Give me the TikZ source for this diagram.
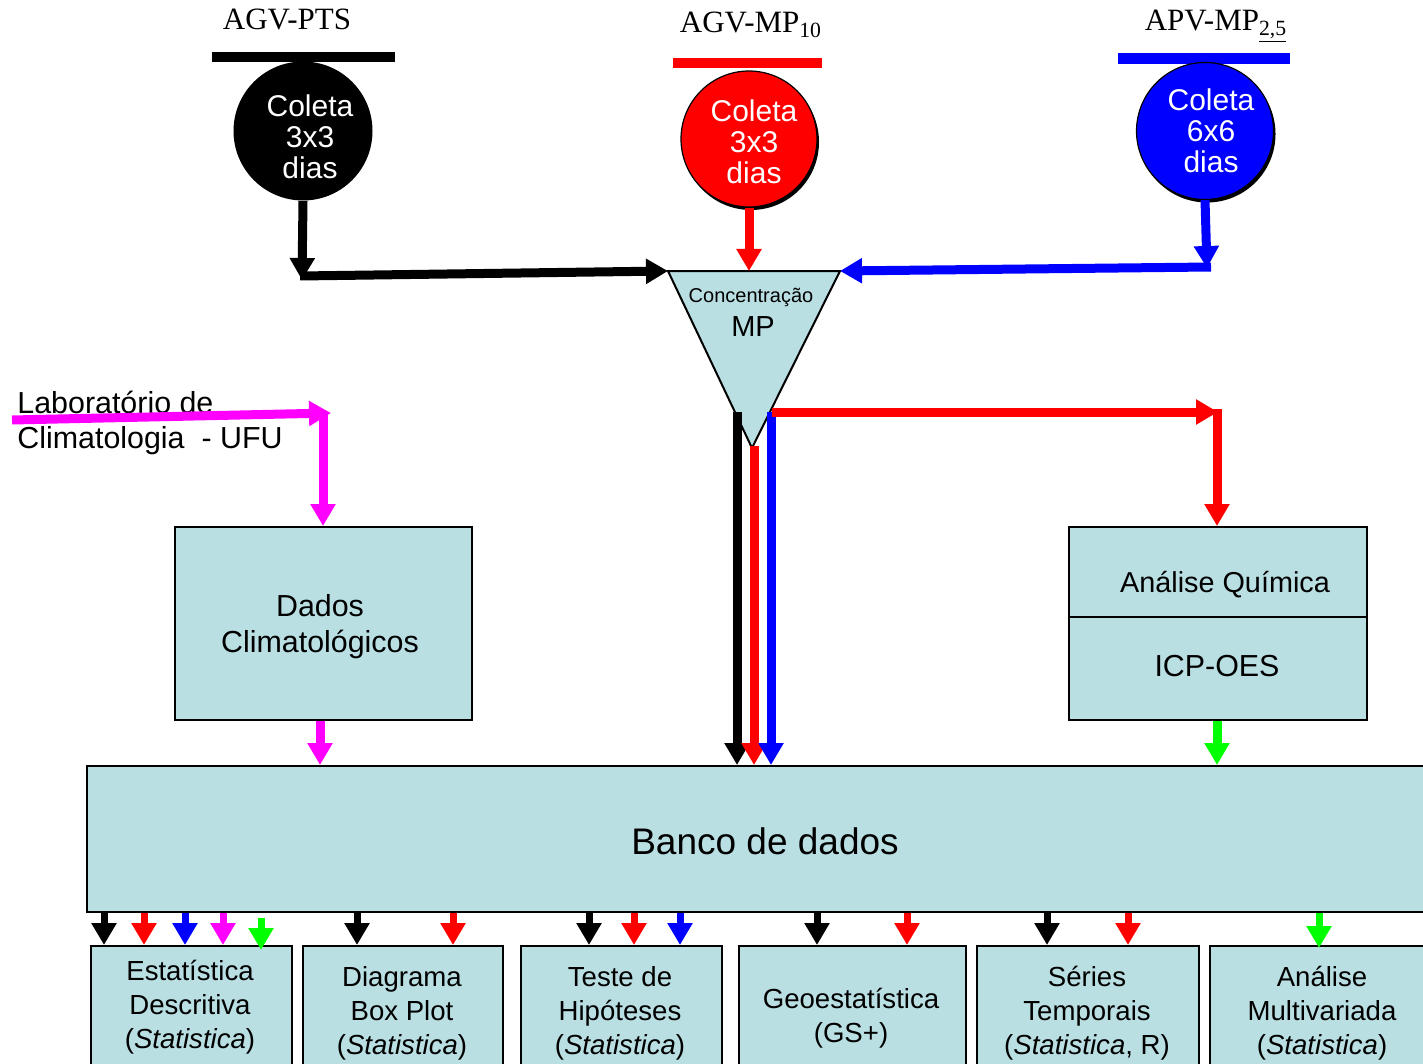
\documentclass[tikz,border=0pt]{standalone}
\usepackage{fontspec}
\setmainfont{Liberation Sans}
\newfontfamily\serifT{Liberation Serif}
\usetikzlibrary{arrows.meta}
\definecolor{boxblue}{RGB}{185,223,227}
\definecolor{mag}{RGB}{255,0,255}
\definecolor{grn}{RGB}{0,255,0}
\begin{document}
\begin{tikzpicture}[x=0.5pt,y=-0.5pt,
  fat/.style={line width=4.5pt,-{Triangle[length=11pt,width=12pt]}},
  slim/.style={line width=3.5pt,-{Triangle[length=11pt,width=12pt]}},
  boxst/.style={draw=black,line width=1pt,fill=boxblue,inner sep=0pt,anchor=north west},
  ctext/.style={text=white,font=\fontsize{15}{15.5}\selectfont,align=center},
  toplab/.style={font=\serifT\fontsize{15.5}{17}\selectfont,anchor=base,inner sep=0pt},
  midtext/.style={font=\fontsize{15.2}{18}\selectfont,align=center},
  bottext/.style={font=\fontsize{13.8}{17}\selectfont,align=center},
  labtext/.style={font=\fontsize{15.2}{16}\selectfont,anchor=base west,inner sep=0pt}]
\useasboundingbox (0,0) rectangle (1423,1064);
\clip (0,0) rectangle (1423,1064);
\fill[white] (0,0) rectangle (1423,1064);

% ---- top labels and bars
\node[toplab] (lPTS) at (287,30) {AGV-PTS};
\node[toplab] (lMP10) at (751,33) {AGV-MP\textsubscript{10}};
\node[toplab] (lMP25) at (1216,31) {APV-MP\textsubscript{\underline{2,5}}};
\fill[black] (212,52) rectangle (395,62);
\fill[red] (673,58) rectangle (822,68);
\fill[blue] (1118,53) rectangle (1290,64);

% ---- circles
\node[circle,fill=black,minimum size=69.5pt,inner sep=0pt] (cPTS) at (303,131) {};
\node[ctext] (tPTS) at (310,137) {Coleta\\3x3\\dias};
\node[circle,fill=black,minimum size=68pt,inner sep=0pt] (sMP10) at (751,142) {};
\node[circle,fill=red,draw=black,line width=0.6pt,minimum size=68pt,inner sep=0pt] (cMP10) at (749,139) {};
\node[ctext] (tMP10) at (754,142) {Coleta\\3x3\\dias};
\node[circle,fill=black,minimum size=68.5pt,inner sep=0pt] (sMP25) at (1207,134) {};
\node[circle,fill=blue,draw=black,line width=0.6pt,minimum size=68.5pt,inner sep=0pt] (cMP25) at (1205,131) {};
\node[ctext] (tMP25) at (1211,131) {Coleta\\6x6\\dias};

% ---- triangle
\coordinate (tl) at (668,271);
\coordinate (tr) at (840,271);
\coordinate (tb) at (752,448);
\coordinate (ttop) at (749,271);
\filldraw[fill=boxblue,draw=black,line width=1pt,line join=miter] (tl) -- (tr) -- (tb) -- cycle;
\node[font=\fontsize{10}{12}\selectfont] (tConc) at (751,297) {Concentração};
\node[font=\fontsize{14.5}{16}\selectfont] (tMP) at (753,327) {MP};

% ---- arrows into triangle
\coordinate (kPTS) at (302,280);
\coordinate (hPTS) at (300,276);
\draw[fat,black] (hPTS) -- (tl);
\draw[fat,black] (cPTS.south) -- (kPTS);
\draw[fat,red] (cMP10.south) -- (ttop);
\coordinate (kMP25) at (1207,268);
\coordinate (hMP25) at (1211,267);
\draw[fat,blue] (hMP25) -- (tr);
\draw[fat,blue] (cMP25.south) -- (kMP25);

% ---- boxes
\node[boxst,minimum width=148.5pt,minimum height=96.5pt] (dados) at (174,526) {};
\node[midtext] (tDados) at (320,627) {Dados\\Climatológicos};
\node[boxst,minimum width=149pt,minimum height=96.5pt] (quim) at (1068,526) {};
\draw[line width=1pt] (quim.west |- 0,617) -- (quim.east |- 0,617);
\node[midtext,font=\fontsize{14.4}{18}\selectfont] (tQuim) at (1225,585) {Análise Química};
\node[midtext] (tICP) at (1217,666) {ICP-OES};
\node[boxst,minimum width=675pt,minimum height=73pt] (banco) at (86,765) {};
\node[font=\fontsize{18.5}{20}\selectfont] (tBanco) at (765,841) {Banco de dados};

% ---- laboratory label and magenta arrows
\node[labtext] (lab1) at (17,413) {Laboratório de};
\node[labtext] (lab2) at (17,448) {Climatologia\ \ - UFU};
\coordinate (mStart) at (12,420);
\coordinate (mCorner) at (331,413);
\coordinate (mDown) at (323,413);
\draw[fat,mag] (mStart) -- (mCorner);
\draw[fat,mag] (mDown) -- (dados.north -| mDown);
\draw[fat,mag] (dados.south -| 320,0) -- (banco.north -| 320,0);

% ---- arrows from triangle to banco
\coordinate (sBlack) at (737,412);
\coordinate (sRed) at (754,446);
\coordinate (sBlue) at (771,412);
\draw[fat,black] (sBlack) -- (banco.north -| sBlack);
\draw[fat,red] (sRed) -- (banco.north -| sRed);
\draw[fat,blue] (sBlue) -- (banco.north -| sBlue);
\coordinate (rStart) at (772,412);
\coordinate (rCorner) at (1218,412);
\coordinate (rDown) at (1217,409);
\draw[fat,red] (rStart) -- (rCorner);
\draw[fat,red] (rDown) -- (quim.north -| rDown);
\draw[fat,grn] (quim.south -| 1217,0) -- (banco.north -| 1217,0);

% ---- bottom boxes
\node[boxst,minimum width=100.5pt,minimum height=70pt] (b1) at (90,945) {};
\node[boxst,minimum width=100pt,minimum height=70pt] (b2) at (302,945) {};
\node[boxst,minimum width=100.5pt,minimum height=70pt] (b3) at (520,945) {};
\node[boxst,minimum width=113.5pt,minimum height=70pt] (b4) at (738,945) {};
\node[boxst,minimum width=111pt,minimum height=70pt] (b5) at (976,945) {};
\node[boxst,minimum width=115pt,minimum height=70pt] (b6) at (1209,945) {};
\node[bottext] (t1) at (190,1007) {Estatística\\Descritiva\\(\textit{Statistica})};
\node[bottext] (t2) at (402,1013) {Diagrama\\Box Plot\\(\textit{Statistica})};
\node[bottext] (t3) at (620,1013) {Teste de\\Hipóteses\\(\textit{Statistica})};
\node[bottext] (t4) at (851,1018) {Geoestatística\\(GS+)};
\node[bottext] (t5) at (1087,1013) {Séries\\Temporais\\(\textit{Statistica}, R)};
\node[bottext] (t6) at (1322,1013) {Análise\\Multivariada\\(\textit{Statistica})};

% ---- small arrows banco -> bottom boxes
\foreach \xx/\cc/\bb in {104/black/b1,144/red/b1,185/blue/b1,223/mag/b1,
    357/black/b2,453/red/b2,589/black/b3,634/red/b3,680/blue/b3,
    817/black/b4,907/red/b4,1047/black/b5,1128/red/b5}
  \draw[slim,\cc] (banco.south -| \xx,0) -- (\bb.north -| \xx,0);
\coordinate (gEnd) at (261,950);
\coordinate (gEnd6) at (1319,948);
\draw[slim,grn] (banco.south -| gEnd) ++(0,5) -- (gEnd);
\draw[slim,grn] (banco.south -| gEnd6) -- (gEnd6);
\end{tikzpicture}
\end{document}
